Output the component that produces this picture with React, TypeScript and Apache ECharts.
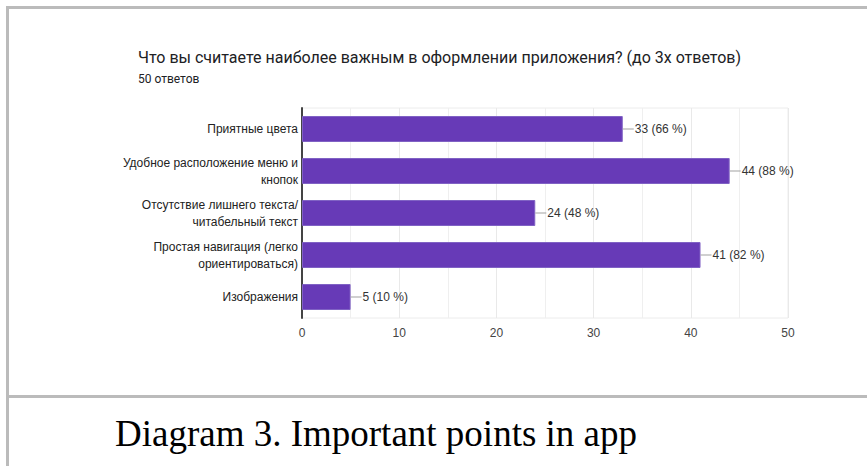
import React, { useEffect, useRef } from "react";
import * as echarts from "echarts";

// Survey question: answer options and number of respondents choosing each
const categories: string[] = [
  "Приятные цвета",
  "Удобное расположение меню и\nкнопок",
  "Отсутствие лишнего текста/\nчитабельный текст",
  "Простая навигация (легко\nориентироваться)",
  "Изображения",
];
const counts: number[] = [33, 44, 24, 41, 5];
const totalResponses = 50;
const xTicks: number[] = [0, 10, 20, 30, 40, 50];

const chartTitle = "Что вы считаете наиболее важным в оформлении приложения? (до 3х ответов)";
const chartSubtitle = `${totalResponses} ответов`;
const caption = "Diagram 3. Important points in app";

const SANS = "Arial, 'Liberation Sans', sans-serif";

export default function App() {
  const ref = useRef<HTMLDivElement>(null);

  useEffect(() => {
    document.body.style.margin = "0";
    const chart = echarts.init(ref.current!, null, { renderer: "svg" });
    chart.setOption({
      animation: false,
      backgroundColor: "#ffffff",
      title: {
        text: chartTitle,
        subtext: chartSubtitle,
        left: 133,
        top: 44,
        itemGap: 8,
        textStyle: {
          fontFamily: "Roboto, " + SANS,
          fontSize: 16,
          fontWeight: "normal",
          color: "#202124",
        },
        subtextStyle: {
          fontFamily: "Roboto, " + SANS,
          fontSize: 12,
          color: "#202124",
        },
      },
      grid: {
        left: 302,
        right: 79,
        top: 108,
        bottom: 148,
        show: true,
        borderColor: "#ececec",
        borderWidth: 1,
      },
      xAxis: {
        type: "value",
        min: xTicks[0],
        max: xTicks[xTicks.length - 1],
        interval: 10,
        axisLine: { show: false },
        axisTick: { show: false },
        axisLabel: { color: "#444", fontFamily: SANS, fontSize: 12, margin: 9 },
        splitLine: { lineStyle: { color: "#e9e9e9" } },
        minorTick: { show: false, splitNumber: 2 },
        minorSplitLine: { show: true, lineStyle: { color: "#efefef" } },
      },
      yAxis: {
        type: "category",
        inverse: true,
        data: categories,
        axisLine: { show: true, lineStyle: { color: "#444", width: 2 } },
        axisTick: { show: false },
        axisLabel: {
          color: "#222",
          fontFamily: SANS,
          fontSize: 12,
          lineHeight: 17,
          margin: 4,
        },
      },
      series: [
        {
          type: "bar",
          data: counts,
          barWidth: 26,
          itemStyle: { color: "#673ab7", borderColor: "#8062c4", borderWidth: 1 },
          label: {
            show: true,
            position: "right",
            distance: 0,
            formatter: (p: any) =>
              `{l|}{t|${p.value} (${Math.round((p.value / totalResponses) * 100)} %)}`,
            rich: {
              l: { width: 11, height: 1, backgroundColor: "#a0a0a0" },
              t: { fontFamily: SANS, fontSize: 12, color: "#333", padding: [0, 0, 0, 1] },
            },
          },
        },
      ],
      graphic: [
        { type: "rect", shape: { x: 6, y: 6, width: 861, height: 3 }, style: { fill: "#bbbbbb" } },
        { type: "rect", shape: { x: 6, y: 6, width: 3, height: 460 }, style: { fill: "#bbbbbb" } },
        { type: "rect", shape: { x: 6, y: 395, width: 861, height: 3 }, style: { fill: "#bbbbbb" } },
        {
          type: "text",
          x: 115,
          y: 433,
          style: {
            text: caption,
            font: "37px 'Liberation Serif', 'Times New Roman', serif",
            fill: "#000",
            verticalAlign: "middle",
          },
        },
      ],
    });
    return () => chart.dispose();
  }, []);

  return (
    <div
      ref={ref}
      style={{ position: "fixed", left: 0, top: 0, width: 867, height: 466 }}
    />
  );
}
